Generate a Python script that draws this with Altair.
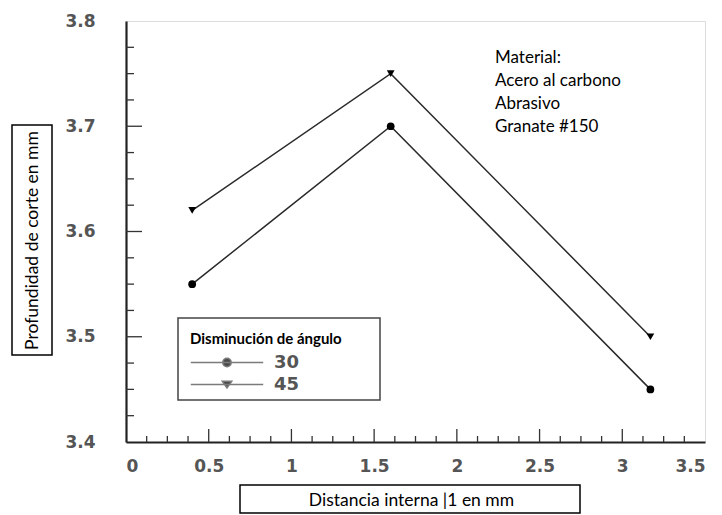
import altair as alt
import pandas as pd

# ---- data ----
distancia = [0.4, 1.6, 3.17]
prof_30 = [3.55, 3.70, 3.45]
prof_45 = [3.62, 3.75, 3.50]
series = ["30", "45"]

x_major = [0.5, 1.0, 1.5, 2.0, 2.5, 3.0]
x_minor = [0.125, 0.25, 0.375, 0.625, 0.75, 0.875, 1.125, 1.25, 1.375,
           1.625, 1.75, 1.875, 2.125, 2.25, 2.375, 2.625, 2.75, 2.875,
           3.125, 3.25, 3.375]
y_major = [3.5, 3.6, 3.7]
y_minor = [3.425, 3.45, 3.475, 3.525, 3.55, 3.575, 3.625, 3.65, 3.675,
           3.725, 3.75, 3.775]
x_labels = [0, 0.5, 1, 1.5, 2, 2.5, 3, 3.5]
y_labels = [3.4, 3.5, 3.6, 3.7, 3.8]

note = "Material:\nAcero al carbono\nAbrasivo\nGranate #150"

df = pd.DataFrame({
    "dist": distancia * 2,
    "prof": prof_30 + prof_45,
    "serie": [series[0]] * 3 + [series[1]] * 3,
})

W, H = 579, 421
xs = alt.Scale(domain=[0, 3.5], nice=False, zero=False)
ys = alt.Scale(domain=[3.4, 3.8], nice=False, zero=False)

xax = alt.Axis(values=x_labels, format="~g", ticks=False, grid=False,
               labelFont="DejaVu Sans", labelFontWeight="bold", labelFontSize=17,
               labelColor="#555", labelPadding=16, domainColor="#222", domainWidth=2.2,
               title="Distancia interna |1 en mm", titleFont="Lato", titleFontSize=17.5,
               titleFontWeight="normal", titleColor="black", titleX=285, titleY=58,
               titleAlign="center", titleBaseline="middle")
yax = alt.Axis(values=y_labels, format=".1f", ticks=False, grid=False,
               labelFont="DejaVu Sans", labelFontWeight="bold", labelFontSize=17,
               labelColor="#555", labelPadding=31, domainColor="#222", domainWidth=2.2,
               title="Profundidad de corte en mm", titleFont="Lato", titleFontSize=17.5,
               titleFontWeight="normal", titleColor="black", titleX=-94, titleY=219,
               titleAlign="center", titleBaseline="middle", titleAngle=270)

base = alt.Chart(df)

lines = base.mark_line(color="#2a2a2a", strokeWidth=1.5).encode(
    x=alt.X("dist:Q", scale=xs, axis=xax),
    y=alt.Y("prof:Q", scale=ys, axis=yax),
    detail="serie:N",
)

points = base.mark_point(filled=True, color="black", size=60, opacity=1).encode(
    x=alt.X("dist:Q", scale=xs),
    y=alt.Y("prof:Q", scale=ys),
    shape=alt.Shape("serie:N", scale=alt.Scale(domain=series, range=["circle", "triangle-down"]),
                    legend=None),
)

p30 = "M-3.45,0H3.45M0.4,0A0.4,0.4 0 1,1 -0.4,0A0.4,0.4 0 1,1 0.4,0Z"
p45 = "M-3.45,0H3.45M-0.45,-0.3L0.45,-0.3L0,0.32Z"

legend_layer = base.transform_filter("false").mark_point(
    filled=True, fill="black", stroke="#444", strokeWidth=1
).encode(
    x=alt.X("dist:Q", scale=xs),
    y=alt.Y("prof:Q", scale=ys),
    shape=alt.Shape("serie:N", scale=alt.Scale(domain=series, range=[p30, p45]),
                    legend=alt.Legend(orient="none", legendX=64, legendY=311,
                                      title="Disminución de ángulo", titleFont="Lato",
                                      titleFontSize=15, titleFontWeight="bold",
                                      titleColor="black", titlePadding=4,
                                      labelFont="DejaVu Sans", labelFontSize=18,
                                      labelFontWeight="bold", labelColor="#555",
                                      symbolSize=441, symbolOffset=25.5, labelOffset=35.5,
                                      rowPadding=1, padding=0)),
)

tick_x_major = alt.Chart(pd.DataFrame({"v": x_major})).mark_rule(color="#333", strokeWidth=1.3).encode(
    x=alt.X("v:Q", scale=xs), y=alt.value(H), y2=alt.value(H - 13))
tick_x_minor = alt.Chart(pd.DataFrame({"v": x_minor})).mark_rule(color="#333", strokeWidth=1.3).encode(
    x=alt.X("v:Q", scale=xs), y=alt.value(H), y2=alt.value(H - 6))
tick_y_major = alt.Chart(pd.DataFrame({"v": y_major})).mark_rule(color="#333", strokeWidth=1.3).encode(
    y=alt.Y("v:Q", scale=ys), x=alt.value(0), x2=alt.value(16))
tick_y_minor = alt.Chart(pd.DataFrame({"v": y_minor})).mark_rule(color="#333", strokeWidth=1.3).encode(
    y=alt.Y("v:Q", scale=ys), x=alt.value(0), x2=alt.value(8))

box_df = pd.DataFrame({"k": [0]})
ybox = alt.Chart(box_df).mark_rect(fill=None, stroke="black", strokeWidth=1.5).encode(
    x=alt.value(-114), x2=alt.value(-74), y=alt.value(104), y2=alt.value(334))
xbox = alt.Chart(box_df).mark_rect(fill=None, stroke="black", strokeWidth=1.5).encode(
    x=alt.value(114), x2=alt.value(454), y=alt.value(464), y2=alt.value(492))
lbox = alt.Chart(box_df).mark_rect(fill=None, stroke="#444", strokeWidth=1.5).encode(
    x=alt.value(52), x2=alt.value(254), y=alt.value(297), y2=alt.value(379))

ann = alt.Chart(pd.DataFrame({"t": [note]})).mark_text(
    align="left", baseline="middle", lineBreak="\n", lineHeight=23,
    font="Lato", fontSize=17, color="black"
).encode(text="t:N", x=alt.value(369), y=alt.value(37))

chart = alt.layer(
    lines, points, legend_layer, tick_x_major, tick_x_minor, tick_y_major, tick_y_minor,
    ybox, xbox, lbox, ann
).resolve_scale(shape="independent").properties(
    width=W, height=H,
    autosize=alt.AutoSizeParams(type="none"),
    padding={"left": 126, "top": 21, "right": 17, "bottom": 73},
).configure_view(stroke="#777", strokeWidth=1.5).configure(background="white")

chart.save("out.html", embed_options={"renderer": "svg", "actions": False})
